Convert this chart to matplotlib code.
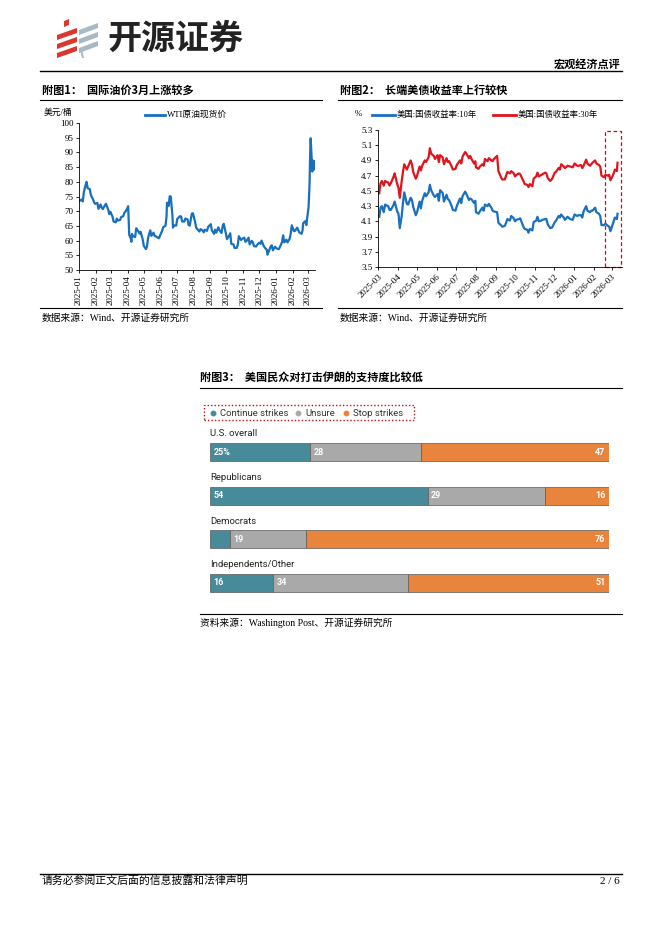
import numpy as np
import pandas as pd
import matplotlib
matplotlib.use('Agg')
import matplotlib.pyplot as plt
import matplotlib.dates as mdates
from matplotlib.lines import Line2D
from matplotlib.patches import Polygon, Rectangle

# ---- 附图1 WTI原油现货价 (美元/桶)
oil_dates = [
    '2025-01-02', '2025-01-06', '2025-01-08', '2025-01-10', '2025-01-13', '2025-01-15', '2025-01-17',
    '2025-01-21', '2025-01-23', '2025-01-27', '2025-01-29', '2025-01-31', '2025-02-04', '2025-02-06',
    '2025-02-10', '2025-02-12', '2025-02-14', '2025-02-18', '2025-02-20', '2025-02-24', '2025-02-26',
    '2025-02-28', '2025-03-04', '2025-03-06', '2025-03-10', '2025-03-12', '2025-03-14', '2025-03-18',
    '2025-03-20', '2025-03-24', '2025-03-26', '2025-03-28', '2025-04-01', '2025-04-02', '2025-04-03',
    '2025-04-04', '2025-04-07', '2025-04-08', '2025-04-09', '2025-04-11', '2025-04-15', '2025-04-17',
    '2025-04-21', '2025-04-23', '2025-04-25', '2025-04-29', '2025-05-01', '2025-05-05', '2025-05-07',
    '2025-05-09', '2025-05-13', '2025-05-15', '2025-05-19', '2025-05-21', '2025-05-23', '2025-05-27',
    '2025-05-29', '2025-06-02', '2025-06-04', '2025-06-06', '2025-06-10', '2025-06-12', '2025-06-13',
    '2025-06-16', '2025-06-18', '2025-06-20', '2025-06-23', '2025-06-24', '2025-06-26', '2025-06-30',
    '2025-07-02', '2025-07-07', '2025-07-09', '2025-07-11', '2025-07-15', '2025-07-17', '2025-07-21',
    '2025-07-23', '2025-07-25', '2025-07-29', '2025-07-31', '2025-08-04', '2025-08-06', '2025-08-08',
    '2025-08-12', '2025-08-14', '2025-08-18', '2025-08-20', '2025-08-22', '2025-08-26', '2025-08-28',
    '2025-09-02', '2025-09-04', '2025-09-08', '2025-09-10', '2025-09-12', '2025-09-16', '2025-09-18',
    '2025-09-22', '2025-09-24', '2025-09-26', '2025-09-30', '2025-10-02', '2025-10-06', '2025-10-08',
    '2025-10-10', '2025-10-14', '2025-10-16', '2025-10-20', '2025-10-22', '2025-10-24', '2025-10-28',
    '2025-10-30', '2025-11-03', '2025-11-05', '2025-11-07', '2025-11-11', '2025-11-13', '2025-11-17',
    '2025-11-19', '2025-11-21', '2025-11-25', '2025-11-27', '2025-12-01', '2025-12-03', '2025-12-05',
    '2025-12-09', '2025-12-11', '2025-12-15', '2025-12-16', '2025-12-18', '2025-12-22', '2025-12-24',
    '2025-12-26', '2025-12-30', '2026-01-02', '2026-01-06', '2026-01-08', '2026-01-12', '2026-01-14',
    '2026-01-16', '2026-01-20', '2026-01-22', '2026-01-26', '2026-01-28', '2026-01-30', '2026-02-03',
    '2026-02-05', '2026-02-09', '2026-02-11', '2026-02-13', '2026-02-17', '2026-02-19', '2026-02-20',
    '2026-02-24', '2026-02-26', '2026-02-27', '2026-03-02', '2026-03-03', '2026-03-04', '2026-03-05',
    '2026-03-06', '2026-03-09', '2026-03-10', '2026-03-11', '2026-03-12',
]
oil_vals = [
    73.5, 74.0, 73.3, 76.5, 78.8, 80.0, 77.8,
    77.5, 75.5, 74.0, 73.0, 72.5, 72.8, 70.8,
    72.3, 71.2, 70.7, 72.0, 72.5, 70.6, 69.0,
    69.8, 68.2, 66.5, 66.2, 67.5, 66.8, 67.0,
    68.0, 68.3, 69.5, 69.8, 71.2, 71.7, 66.9,
    61.9, 60.7, 59.6, 62.3, 61.5, 61.2, 64.2,
    63.1, 62.4, 63.0, 60.4, 58.2, 57.1, 58.1,
    61.0, 63.5, 61.6, 62.7, 61.6, 61.5, 61.0,
    60.8, 62.5, 63.4, 64.6, 65.0, 68.0, 72.9,
    71.8, 75.1, 74.9, 68.5, 64.4, 65.2, 65.1,
    67.4, 68.3, 68.2, 66.5, 66.5, 67.5, 67.2,
    65.3, 65.1, 69.2, 69.3, 66.3, 64.4, 63.9,
    63.1, 63.9, 63.4, 62.8, 63.7, 63.3, 64.6,
    65.6, 63.5, 62.3, 63.7, 62.7, 64.5, 63.6,
    62.6, 64.9, 65.7, 62.4, 60.5, 61.7, 62.5,
    58.9, 58.7, 57.5, 57.5, 58.5, 61.5, 60.2,
    60.6, 61.0, 59.6, 59.8, 61.0, 58.7, 59.9,
    59.4, 58.1, 58.0, 58.6, 59.3, 58.9, 60.0,
    58.2, 57.6, 56.8, 55.2, 56.1, 58.0, 58.4,
    56.7, 57.9, 57.3, 57.1, 57.8, 59.5, 61.8,
    59.4, 60.3, 59.4, 60.6, 62.4, 65.2, 63.2,
    63.3, 64.4, 63.5, 62.8, 62.3, 63.5, 65.9,
    66.6, 65.3, 67.0, 71.2, 75.0, 80.0, 89.5,
    94.8, 83.5, 87.3, 84.0, 87.0,
]

# ---- 附图2 美国国债收益率 (%)
rate_dates = [
    '2025-03-03', '2025-03-04', '2025-03-05', '2025-03-07', '2025-03-10', '2025-03-12', '2025-03-14',
    '2025-03-17', '2025-03-19', '2025-03-21', '2025-03-25', '2025-03-27', '2025-03-31', '2025-04-02',
    '2025-04-04', '2025-04-07', '2025-04-09', '2025-04-11', '2025-04-15', '2025-04-17', '2025-04-21',
    '2025-04-23', '2025-04-25', '2025-04-29', '2025-05-01', '2025-05-05', '2025-05-07', '2025-05-09',
    '2025-05-13', '2025-05-15', '2025-05-19', '2025-05-21', '2025-05-23', '2025-05-27', '2025-05-29',
    '2025-06-02', '2025-06-04', '2025-06-06', '2025-06-10', '2025-06-12', '2025-06-16', '2025-06-18',
    '2025-06-20', '2025-06-24', '2025-06-26', '2025-06-30', '2025-07-02', '2025-07-07', '2025-07-09',
    '2025-07-11', '2025-07-15', '2025-07-17', '2025-07-21', '2025-07-23', '2025-07-25', '2025-07-29',
    '2025-07-31', '2025-08-01', '2025-08-05', '2025-08-07', '2025-08-11', '2025-08-13', '2025-08-15',
    '2025-08-19', '2025-08-21', '2025-08-25', '2025-08-27', '2025-08-29', '2025-09-03', '2025-09-05',
    '2025-09-09', '2025-09-11', '2025-09-15', '2025-09-17', '2025-09-19', '2025-09-23', '2025-09-25',
    '2025-09-29', '2025-10-01', '2025-10-03', '2025-10-07', '2025-10-09', '2025-10-14', '2025-10-16',
    '2025-10-20', '2025-10-22', '2025-10-24', '2025-10-28', '2025-10-30', '2025-11-03', '2025-11-05',
    '2025-11-07', '2025-11-11', '2025-11-13', '2025-11-17', '2025-11-19', '2025-11-21', '2025-11-25',
    '2025-11-28', '2025-12-02', '2025-12-04', '2025-12-08', '2025-12-10', '2025-12-12', '2025-12-16',
    '2025-12-18', '2025-12-22', '2025-12-26', '2025-12-30', '2026-01-02', '2026-01-06', '2026-01-08',
    '2026-01-12', '2026-01-14', '2026-01-16', '2026-01-20', '2026-01-22', '2026-01-26', '2026-01-28',
    '2026-01-30', '2026-02-03', '2026-02-05', '2026-02-09', '2026-02-11', '2026-02-13', '2026-02-17',
    '2026-02-19', '2026-02-23', '2026-02-25', '2026-02-27', '2026-03-02', '2026-03-04', '2026-03-06',
    '2026-03-09', '2026-03-10',
]
us10y = [
    4.16, 4.22, 4.28, 4.30, 4.22, 4.32, 4.31,
    4.30, 4.25, 4.25, 4.31, 4.36, 4.23, 4.20,
    4.01, 4.17, 4.34, 4.48, 4.33, 4.32, 4.41,
    4.38, 4.29, 4.18, 4.22, 4.36, 4.27, 4.37,
    4.47, 4.43, 4.48, 4.58, 4.51, 4.44, 4.42,
    4.46, 4.37, 4.51, 4.47, 4.36, 4.45, 4.39,
    4.38, 4.30, 4.25, 4.24, 4.30, 4.40, 4.34,
    4.43, 4.49, 4.46, 4.38, 4.40, 4.39, 4.34,
    4.37, 4.22, 4.20, 4.23, 4.28, 4.24, 4.32,
    4.30, 4.33, 4.28, 4.24, 4.23, 4.22, 4.08,
    4.05, 4.03, 4.04, 4.08, 4.13, 4.11, 4.17,
    4.14, 4.10, 4.12, 4.13, 4.14, 4.03, 4.00,
    3.99, 3.95, 4.00, 3.98, 4.09, 4.11, 4.16,
    4.10, 4.11, 4.12, 4.13, 4.13, 4.06, 4.01,
    4.02, 4.09, 4.11, 4.17, 4.15, 4.19, 4.15,
    4.12, 4.16, 4.13, 4.12, 4.19, 4.17, 4.18,
    4.18, 4.15, 4.23, 4.30, 4.24, 4.22, 4.24,
    4.24, 4.28, 4.22, 4.20, 4.17, 4.05, 4.05,
    4.07, 4.04, 4.03, 3.97, 4.05, 4.10, 4.15,
    4.13, 4.20,
]
us30y = [
    4.47, 4.55, 4.60, 4.63, 4.57, 4.63, 4.62,
    4.61, 4.57, 4.60, 4.68, 4.73, 4.59, 4.54,
    4.41, 4.63, 4.75, 4.85, 4.78, 4.82, 4.90,
    4.85, 4.75, 4.66, 4.70, 4.82, 4.77, 4.83,
    4.90, 4.88, 4.94, 5.06, 4.99, 4.96, 4.92,
    4.97, 4.88, 4.97, 4.94, 4.85, 4.93, 4.88,
    4.89, 4.82, 4.78, 4.79, 4.84, 4.90, 4.86,
    4.95, 5.01, 4.99, 4.93, 4.96, 4.92, 4.86,
    4.89, 4.81, 4.79, 4.82, 4.85, 4.83, 4.92,
    4.89, 4.93, 4.90, 4.89, 4.92, 4.96, 4.76,
    4.68, 4.65, 4.65, 4.70, 4.75, 4.73, 4.76,
    4.73, 4.69, 4.71, 4.73, 4.72, 4.63, 4.59,
    4.58, 4.55, 4.59, 4.56, 4.66, 4.69, 4.74,
    4.69, 4.71, 4.72, 4.74, 4.73, 4.67, 4.63,
    4.66, 4.74, 4.75, 4.80, 4.78, 4.85, 4.82,
    4.80, 4.83, 4.82, 4.81, 4.86, 4.83, 4.83,
    4.84, 4.80, 4.83, 4.91, 4.86, 4.83, 4.85,
    4.87, 4.90, 4.86, 4.84, 4.82, 4.70, 4.68,
    4.71, 4.70, 4.71, 4.64, 4.69, 4.73, 4.78,
    4.76, 4.87,
]

# ---- 附图3 Washington Post poll (%)
groups = ['U.S. overall', 'Republicans', 'Democrats', 'Independents/Other']
continue_strikes = [25, 54, 5, 16]
unsure = [28, 29, 19, 34]
stop_strikes = [47, 16, 76, 51]
series_names = ['Continue strikes', 'Unsure', 'Stop strikes']

W, H = 662, 936
CJK = ['Noto Sans CJK SC', 'DejaVu Sans']
SERIF = ['Liberation Serif', 'Noto Sans CJK SC']
SANS = ['Roboto', 'DejaVu Sans']

fig = plt.figure(figsize=(W / 100, H / 100), dpi=100)
fig.patch.set_facecolor('white')


def fx(x):
    return x / W


def fy(y):
    return 1 - y / H


def add_ax(x0, y0, x1, y1):
    return fig.add_axes([fx(x0), fy(y1), (x1 - x0) / W, (y1 - y0) / H])


def txt(x, y, s, **kw):
    kw.setdefault('family', CJK)
    kw.setdefault('va', 'center')
    return fig.text(fx(x), fy(y), s, **kw)


def hline(x0, x1, y, lw=0.8, color='black', **kw):
    fig.add_artist(Line2D([fx(x0), fx(x1)], [fy(y), fy(y)], color=color, lw=lw, **kw))


def poly(pts, color):
    fig.add_artist(Polygon([(fx(x), fy(y)) for x, y in pts], closed=True,
                           facecolor=color, edgecolor='none', transform=fig.transFigure))


# header / logo
red = '#d8382e'
grey = '#a7b9c4'
for y in [31, 40, 49]:
    poly([(57, y + 4), (77, y - 3), (77, y + 2), (57, y + 9)], red)
poly([(64, 21), (69, 19), (69, 25), (64, 27)], red)
for y in [24, 33, 42]:
    poly([(79, y + 6), (98, y - 1), (98, y + 4), (79, y + 11)], grey)
poly([(80, 50), (82, 50), (84, 58), (82, 58)], grey)
txt(107, 38, '开源证券', fontsize=24.5, weight='bold', color='#222222')
hline(40, 622, 71, lw=1.0)
txt(620, 64, '宏观经济点评', fontsize=8, weight='bold', ha='right')

# ---------------- 附图1
txt(42, 90, '附图1：  国际油价3月上涨较多', fontsize=8, weight='bold')
hline(40, 322, 100, lw=0.8)

ax1 = add_ax(79, 123, 315, 270)
ax1.plot(pd.to_datetime(oil_dates), oil_vals, color='#1670bd', lw=1.6)
ax1.set_ylim(50, 100)
ax1.set_yticks(range(50, 101, 5))
ax1.set_xlim(pd.Timestamp('2025-01-01'), pd.Timestamp('2026-03-14'))
ax1.xaxis.set_major_locator(mdates.MonthLocator())
ax1.xaxis.set_major_formatter(mdates.DateFormatter('%Y-%m'))
for s in ['top', 'right']:
    ax1.spines[s].set_visible(False)
for s in ['left', 'bottom']:
    ax1.spines[s].set_linewidth(0.6)
ax1.tick_params(axis='both', length=2, width=0.6, labelsize=6.5, pad=2)
for lab in ax1.get_xticklabels():
    lab.set_rotation(90)
    lab.set_family(SERIF)
for lab in ax1.get_yticklabels():
    lab.set_family(SERIF)

txt(44, 113, '美元/桶', fontsize=6.3, family=SERIF)
fig.add_artist(Line2D([fx(145), fx(165)], [fy(115), fy(115)], color='#1670bd', lw=2))
txt(167, 115, 'WTI原油现货价', fontsize=6.3, family=SERIF)

hline(40, 322, 308, lw=0.8)
txt(42, 318, '数据来源：Wind、开源证券研究所', fontsize=7, family=SERIF)

# ---------------- 附图2
txt(340, 90, '附图2：  长端美债收益率上行较快', fontsize=8, weight='bold')
hline(338, 622, 100, lw=0.8)

ax2 = add_ax(378, 130, 622, 267)
rd = pd.to_datetime(rate_dates)
ax2.plot(rd, us10y, color='#1a6fbf', lw=1.6)
ax2.plot(rd, us30y, color='#e3131b', lw=1.6)
ax2.set_ylim(3.5, 5.3)
ax2.set_yticks(np.arange(3.5, 5.31, 0.2))
ax2.yaxis.set_major_formatter(matplotlib.ticker.FormatStrFormatter('%.1f'))
ax2.set_xlim(pd.Timestamp('2025-03-01'), pd.Timestamp('2026-03-17'))
ax2.xaxis.set_major_locator(mdates.MonthLocator())
ax2.xaxis.set_major_formatter(mdates.DateFormatter('%Y-%m'))
for s in ['top', 'right']:
    ax2.spines[s].set_visible(False)
for s in ['left', 'bottom']:
    ax2.spines[s].set_linewidth(0.6)
ax2.tick_params(axis='both', length=2, width=0.6, labelsize=6.5, pad=2)
for lab in ax2.get_xticklabels():
    lab.set_rotation(45)
    lab.set_ha('right')
    lab.set_rotation_mode('anchor')
    lab.set_family(SERIF)
for lab in ax2.get_yticklabels():
    lab.set_family(SERIF)
ax2.add_patch(Rectangle((0.93, 0.0), 0.066, 0.99, transform=ax2.transAxes, fill=False,
                        ls=(0, (3, 2)), ec='#c0101a', lw=0.9, clip_on=False))

txt(355, 114, '%', fontsize=6.3, family=SERIF)
fig.add_artist(Line2D([fx(372), fx(395)], [fy(115), fy(115)], color='#1a6fbf', lw=2))
txt(397, 115, '美国:国债收益率:10年', fontsize=6.0, family=SERIF)
fig.add_artist(Line2D([fx(493), fx(516)], [fy(115), fy(115)], color='#e3131b', lw=2))
txt(518, 115, '美国:国债收益率:30年', fontsize=6.0, family=SERIF)

hline(338, 622, 308, lw=0.8)
txt(340, 318, '数据来源：Wind、开源证券研究所', fontsize=7, family=SERIF)

# ---------------- 附图3
txt(200, 378, '附图3：  美国民众对打击伊朗的支持度比较低', fontsize=8, weight='bold')
hline(200, 622, 388, lw=0.8)

colors = ['#478a99', '#a9a9a9', '#e8843c']
fig.add_artist(Rectangle((fx(204), fy(420)), (414 - 204) / W, 15 / H, fill=False,
                         ls=(0, (1, 1.5)), ec='#c0101a', lw=1.0, transform=fig.transFigure))
for (dx, tx), name, c in zip([(213, 220), (298, 305), (346, 353)], series_names, colors):
    fig.add_artist(Line2D([fx(dx)], [fy(413)], marker='o', ms=3.2, color=c, ls='none'))
    txt(tx, 413, name, fontsize=6.8, family=SANS, color='#333333')

ax3 = add_ax(210, 425, 609, 600)
ax3.set_xlim(0, 100)
ax3.set_ylim(3.39, -0.62)
ax3.axis('off')
bh = 0.41
for i, g in enumerate(groups):
    vals = [continue_strikes[i], unsure[i], stop_strikes[i]]
    total = sum(vals)
    left = 0
    for j, v in enumerate(vals):
        w = v / total * 100
        ax3.barh(i, w, left=left, height=bh, color=colors[j], edgecolor='#5a5a5a', lw=0.5)
        if j < 2 and v >= 10:
            lab = f'{v}%' if (i == 0 and j == 0) else str(v)
            ax3.text(left + 0.9, i, lab, ha='left', va='center', color='white',
                     fontsize=6.5, weight='bold', family=SANS)
        elif j == 2:
            ax3.text(99.1, i, str(v), ha='right', va='center', color='white',
                     fontsize=6.5, weight='bold', family=SANS)
        left += w
    ax3.text(0, i - bh - 0.01, g, ha='left', va='center', fontsize=6.8,
             family=SANS, color='#222222')

hline(200, 622, 614, lw=0.8)
txt(200, 623, '资料来源：Washington Post、开源证券研究所', fontsize=7, family=SERIF)

# footer
hline(40, 622, 874, lw=1.0)
txt(42, 881, '请务必参阅正文后面的信息披露和法律声明', fontsize=7.8)
txt(620, 881, '2 / 6', fontsize=8, family=SERIF, ha='right')

fig.savefig('out.png', dpi=100)
